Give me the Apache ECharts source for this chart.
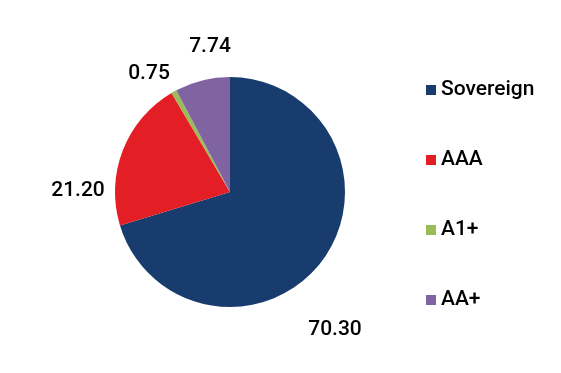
<!DOCTYPE html>
<html><head><meta charset="utf-8">
<script src="https://cdn.jsdelivr.net/npm/echarts@6/dist/echarts.min.js"></script>
<style>html,body{margin:0;padding:0;background:#fff}#c{width:561px;height:373px}</style>
</head><body><div id="c"></div>
<script>
const categories = ["Sovereign", "AAA", "A1+", "AA+"];
const values = [70.30, 21.20, 0.75, 7.74];
const labels = ["70.30", "21.20", "0.75", "7.74"];
const colors = ["#193c6e", "#e31e25", "#9bbb59", "#8064a2"];
const labelPos = [[335, 330], [78, 191], [149, 74], [210, 47]];

const chart = echarts.init(document.getElementById('c'));
chart.setOption({
  animation: false,
  color: colors,
  legend: {
    orient: 'vertical', left: 421, top: 74,
    icon: 'rect', itemWidth: 10, itemHeight: 10, itemGap: 48, itemTextGap: 5,
    textStyle: { fontFamily: 'Roboto', fontSize: 21, fontWeight: 500, color: '#000', lineHeight: 22 },
    data: categories
  },
  series: [{
    type: 'pie',
    center: [230, 192], radius: 115,
    startAngle: 90, clockwise: true,
    avoidLabelOverlap: false,
    label: {
      show: true, position: 'outside', color: '#000',
      fontFamily: 'Roboto', fontSize: 21, fontWeight: 500,
      formatter: p => labels[p.dataIndex]
    },
    labelLine: { show: false },
    labelLayout: p => ({ x: labelPos[p.dataIndex][0], y: labelPos[p.dataIndex][1], align: 'center', verticalAlign: 'middle' }),
    emphasis: { disabled: true },
    data: categories.map((n, i) => ({ name: n, value: values[i] }))
  }]
});
</script></body></html>
